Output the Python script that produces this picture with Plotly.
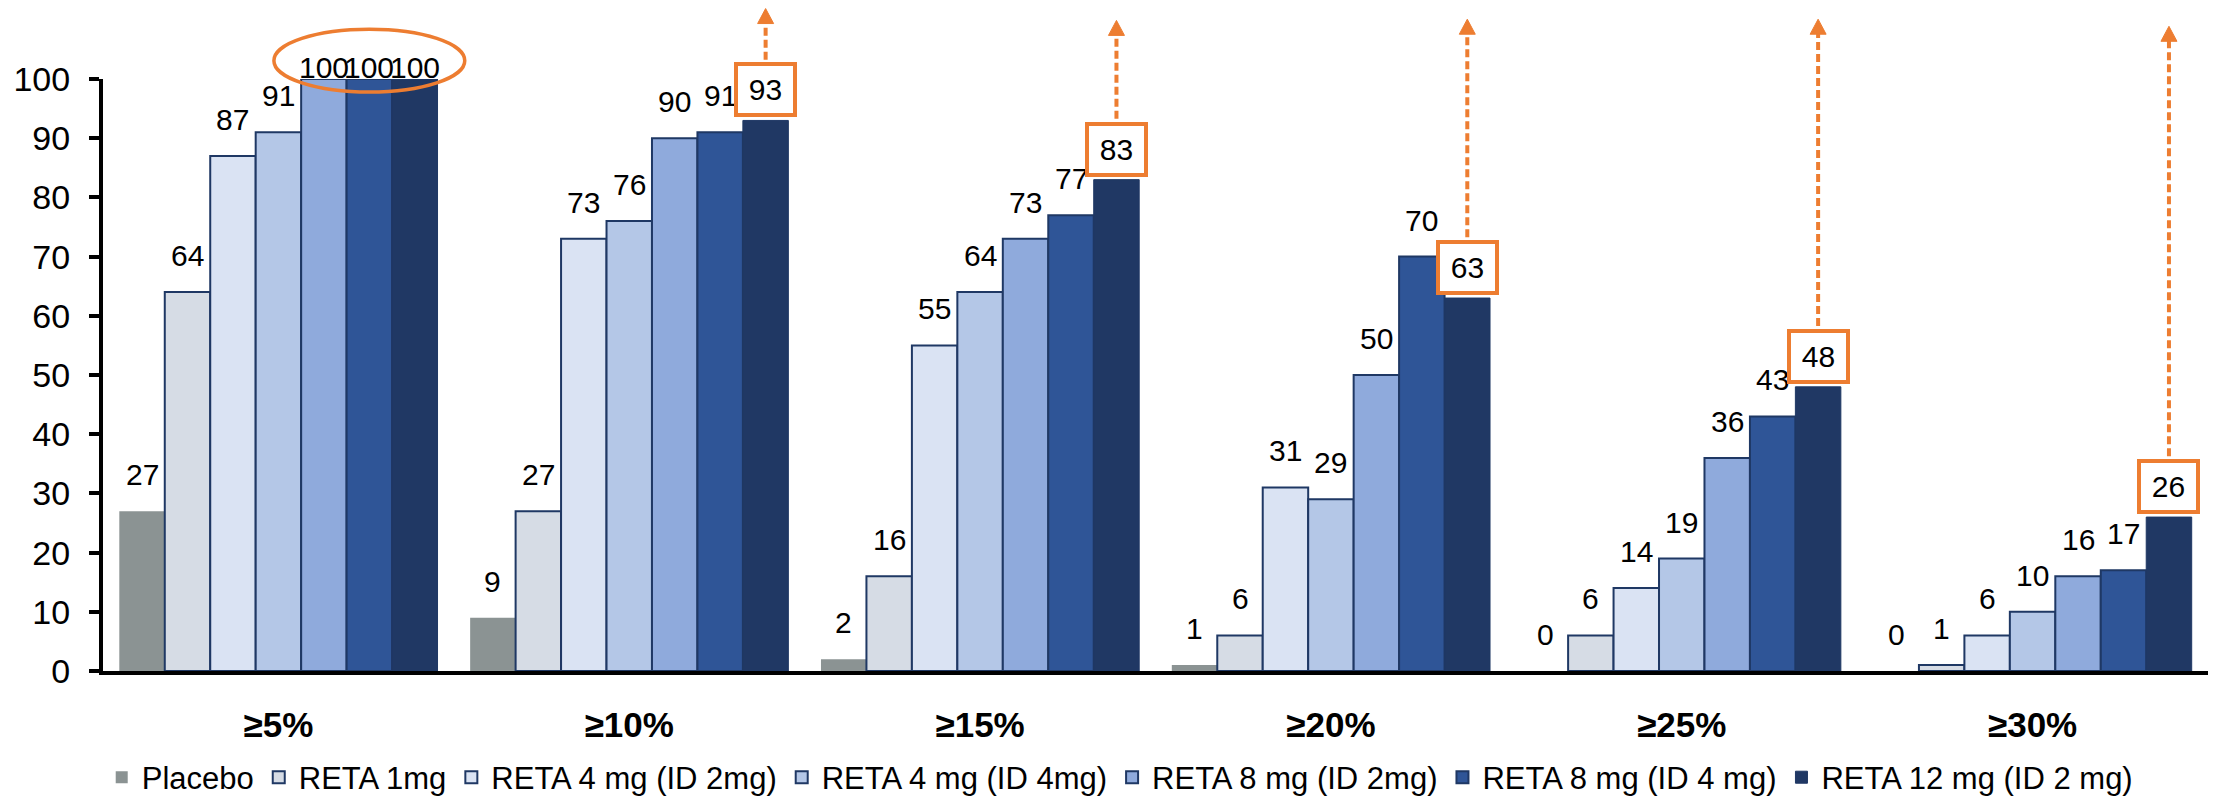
import plotly.graph_objects as go

categories = ["≥5%", "≥10%", "≥15%", "≥20%", "≥25%", "≥30%"]
series_names = ["Placebo", "RETA 1mg", "RETA 4 mg (ID 2mg)", "RETA 4 mg (ID 4mg)",
                "RETA 8 mg (ID 2mg)", "RETA 8 mg (ID 4 mg)", "RETA 12 mg (ID 2 mg)"]
placebo = [27, 9, 2, 1, 0, 0]
reta_1 = [64, 27, 16, 6, 6, 1]
reta_4_id2 = [87, 73, 55, 31, 14, 6]
reta_4_id4 = [91, 76, 64, 29, 19, 10]
reta_8_id2 = [100, 90, 73, 50, 36, 16]
reta_8_id4 = [100, 91, 77, 70, 43, 17]
reta_12_id2 = [100, 93, 83, 63, 48, 26]
y_ticks = [0, 10, 20, 30, 40, 50, 60, 70, 80, 90, 100]

series_values = [placebo, reta_1, reta_4_id2, reta_4_id4, reta_8_id2, reta_8_id4, reta_12_id2]
colors = ["#8B9393", "#D6DCE5", "#DAE3F3", "#B4C7E7", "#8FAADC", "#2F5597", "#203864"]
line_w = [0, 2, 2, 2, 2, 2, 1]
ORANGE = "#ED7D31"
FONT = "Liberation Sans, Arial, sans-serif"

W, H = 2213, 810
ML, MR, MT, MB = 103, 5, 79, 127
YMAX = 100.0
ppu = (H - MT - MB) / YMAX  # pixels per y unit
bargap = 0.093
nser = len(series_names)
bw = (1 - bargap) / nser


def bar_x(ci, si):
    return ci - (1 - bargap) / 2 + (si + 0.5) * bw


def to_paper(v):
    return v / YMAX


fig = go.Figure()
for si, (name, vals) in enumerate(zip(series_names, series_values)):
    fig.add_trace(go.Bar(
        name=name, x=categories, y=vals,
        marker=dict(color=colors[si], line=dict(color="#1F3864", width=line_w[si])),
    ))

annotations = []
shapes = []
boxed_series = nser - 1
arrow_tips = [111.9, 109.9, 110.1, 110.1, 108.9]  # heights of arrow tips (data units) for groups 1..5

for si, vals in enumerate(series_values):
    for ci, v in enumerate(vals):
        x = bar_x(ci, si)
        if si == boxed_series and ci >= 1:
            annotations.append(dict(
                x=x, y=v, xref="x", yref="y", text=str(v), showarrow=False,
                yanchor="bottom", yshift=3, font=dict(size=30, color="black", family=FONT),
                bordercolor=ORANGE, borderwidth=4, borderpad=2, bgcolor="white",
                width=51, height=43,
            ))
            box_top = v + (3 + 59) / ppu
            tip = arrow_tips[ci - 1]
            shapes.append(dict(type="line", xref="x", yref="paper", x0=x, x1=x,
                               y0=to_paper(box_top), y1=to_paper(tip - 14 / ppu),
                               line=dict(color=ORANGE, width=4, dash="8px,4px")))
            shapes.append(dict(type="path", xref="x", yref="paper",
                               xsizemode="pixel", ysizemode="pixel",
                               xanchor=x, yanchor=to_paper(tip),
                               path="M-8,-15 L8,-15 L0,0 Z",
                               fillcolor=ORANGE, line=dict(color=ORANGE, width=1)))
        else:
            shift = min(18, (YMAX - v) * ppu - 7)
            annotations.append(dict(
                x=x, y=v, xref="x", yref="y", text=str(v), showarrow=False,
                yanchor="bottom", yshift=shift, font=dict(size=30, color="black", family=FONT),
            ))

# ellipse around the 100s of the first group
ecx = bar_x(0, 5)
shapes.append(dict(type="circle", xref="x", yref="paper",
                   x0=ecx - 0.272, x1=ecx + 0.272, y0=to_paper(97.8), y1=to_paper(108.4),
                   line=dict(color=ORANGE, width=3.5)))

fig.update_layout(
    width=W, height=H,
    margin=dict(l=ML, r=MR, t=MT, b=MB, pad=0),
    barmode="group", bargap=bargap, bargroupgap=0,
    plot_bgcolor="white", paper_bgcolor="white",
    font=dict(family=FONT, color="black"),
    showlegend=True,
    legend=dict(orientation="h", x=0.483, xanchor="center", y=-0.18, yanchor="middle",
                font=dict(size=31, family=FONT, color="black"), itemwidth=30,
                traceorder="normal"),
    annotations=annotations, shapes=shapes,
)
fig.update_xaxes(
    type="category", range=[-0.5, 5.5], showline=True, linecolor="black", linewidth=4,
    ticks="", showgrid=False, zeroline=False,
    tickfont=dict(size=35, family=FONT, color="black", weight="bold"),
    ticklabelstandoff=20,
)
fig.update_yaxes(
    range=[0, YMAX], tickvals=y_ticks, showline=True, linecolor="black", linewidth=4,
    ticks="outside", ticklen=10, tickwidth=4, tickcolor="black",
    showgrid=False, zeroline=False,
    tickfont=dict(size=34, family=FONT, color="black"),
    ticklabelstandoff=12,
)
fig.write_html("out.html")
